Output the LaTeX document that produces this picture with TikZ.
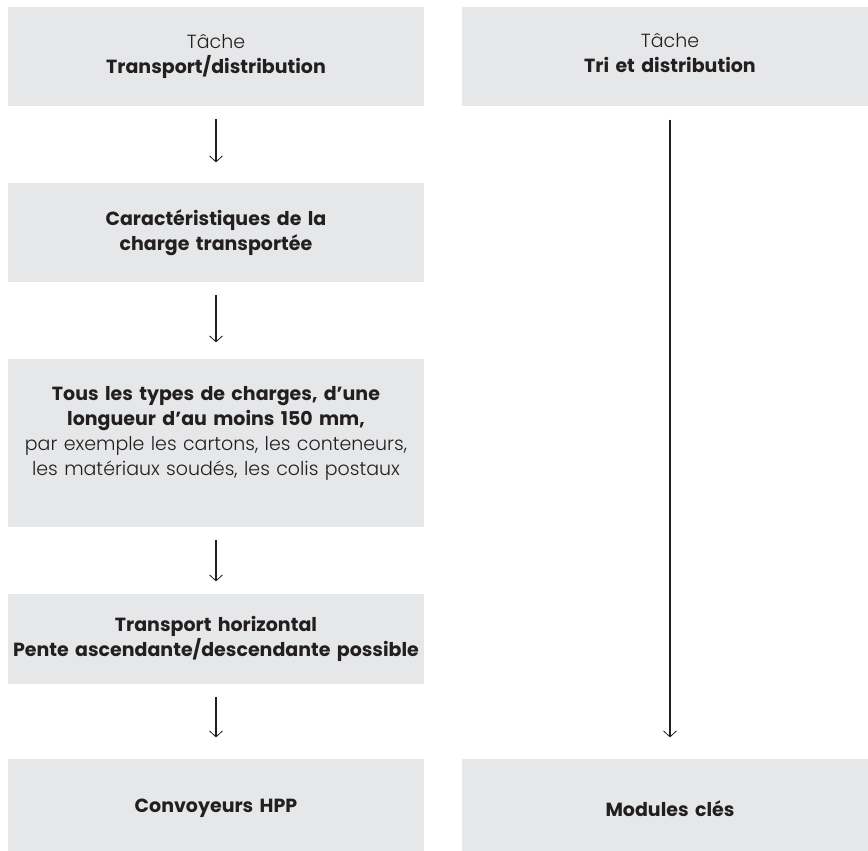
\documentclass[tikz,border=0pt]{standalone}
\usepackage{fontspec}
\setmainfont{Poppins}[UprightFont=* Light, BoldFont=* Bold]
\usetikzlibrary{arrows.meta}
\definecolor{boxgray}{HTML}{E6E7E8}
\definecolor{inkblack}{HTML}{231F20}
\tikzset{every picture/.style={line width=1.2pt}}
\tikzset{
  etape/.style={fill=boxgray, minimum width=416pt, minimum height=99pt, text width=416pt,
    align=center, inner sep=0pt, text=inkblack, font=\fontsize{19}{25}\selectfont},
  fleche/.style={draw=inkblack, -{Straight Barb[length=6pt,width=13pt,line width=0.8pt]}, shorten <=12pt},
}
\begin{document}
\begin{tikzpicture}[x=1pt,y=-1pt]
	\useasboundingbox (0,0) rectangle (868,851);
	\clip (0,0) rectangle (868,851);
	% colonne gauche
	\node[etape] (tache1) at (216,56.5) {Tâche\\\textbf{Transport/distribution}};
	\node[etape] (carac) at (216,232.5) {\textbf{Caractéristiques de la}\\\textbf{charge transportée}};
	\node[etape,minimum height=168pt] (charges) at (216,443) {\textbf{Tous les types de charges, d’une}\\\textbf{longueur d’au moins 150 mm,}\\par exemple les cartons, les conteneurs,\\les matériaux soudés, les colis postaux\\\mbox{}};
	\node[etape,minimum height=90pt] (pente) at (216,639) {\textbf{Transport horizontal}\\\textbf{Pente ascendante/descendante possible}};
	\node[etape] (hpp) at (216,808.5) {\textbf{Convoyeurs HPP}};
	% colonne droite
	\node[etape] (tache2) at (670,56.5) {Tâche\\\textbf{Tri et distribution\strut}};
	\node[etape] (modules) at (670,808.5) {\textbf{Modules clés}};
	% fleches
	\draw[fleche,shorten >=20pt] (tache1) -- (carac);
	\draw[fleche,shorten >=16pt] (carac) -- (charges);
	\draw[fleche,shorten >=12pt] (charges) -- (pente);
	\draw[fleche,shorten >=21pt] (pente) -- (hpp);
	\draw[fleche,shorten <=13pt,shorten >=21pt] (tache2) -- (modules);
\end{tikzpicture}
\end{document}
